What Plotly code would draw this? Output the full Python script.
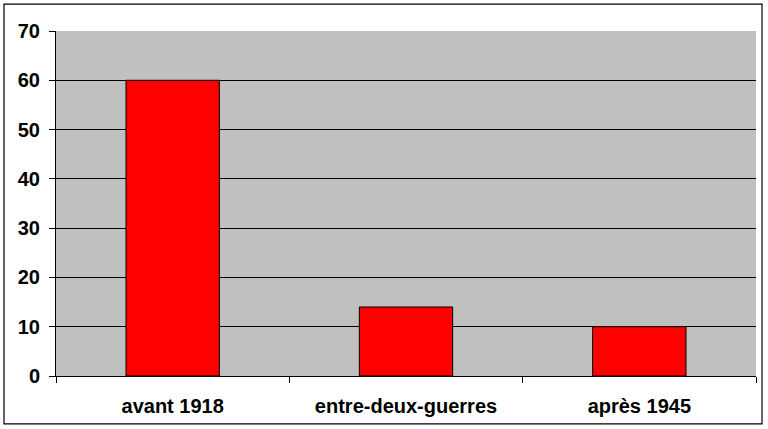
import plotly.graph_objects as go

# Data
categories = ["avant 1918", "entre-deux-guerres", "après 1945"]
values = [60, 14, 10]
y_ticks = [0, 10, 20, 30, 40, 50, 60, 70]

fig = go.Figure()
fig.add_trace(go.Bar(x=categories, y=values,
                     marker=dict(color="#FF0000", line=dict(color="#000000", width=1))))

fig.update_layout(
    width=768, height=429,
    margin=dict(l=56, r=12, t=31, b=53),
    paper_bgcolor="white",
    plot_bgcolor="#C0C0C0",
    bargap=0.6,
    showlegend=False,
    font=dict(family="Liberation Sans, Arial", size=20, color="black"),
)
fig.update_xaxes(ticks="outside", tickson="boundaries", ticklen=6, tickcolor="black",
                 showline=True, linecolor="black", linewidth=1, ticklabelstandoff=12,
                 tickfont=dict(family="Liberation Sans, Arial", size=20, weight="bold"))
fig.update_yaxes(range=[0, 70], tickvals=y_ticks, ticks="outside", ticklen=6,
                 tickcolor="black", showline=True, linecolor="black", linewidth=1,
                 showgrid=True, gridcolor="black", gridwidth=1, zeroline=False,
                 ticklabelstandoff=5,
                 tickfont=dict(family="Liberation Sans, Arial", size=20, weight="bold"))

# outer chart border
fig.add_shape(type="rect", xref="paper", yref="paper",
              x0=-0.0743, x1=1.0086, y0=-0.139, y1=1.078,
              line=dict(color="black", width=1.2), fillcolor="rgba(0,0,0,0)")

fig.write_html("out.html", config={"displayModeBar": False},
               post_script="document.body.style.margin='0';")
